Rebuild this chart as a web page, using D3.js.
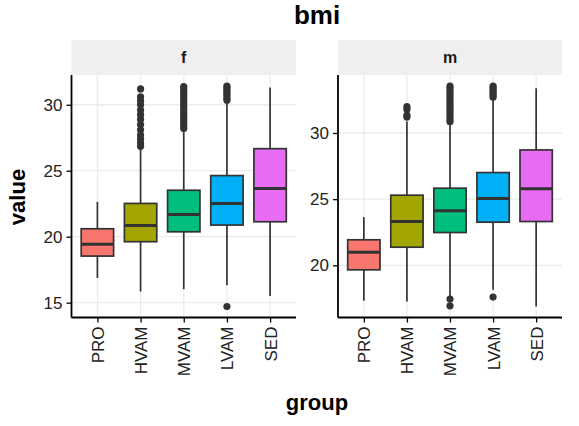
<!DOCTYPE html>
<html><head><meta charset="utf-8">
<script src="https://cdn.jsdelivr.net/npm/d3@7"></script>
<style>body{margin:0;background:#fff;} text{font-family:"Liberation Sans",Arial,Helvetica,sans-serif;}</style>
</head><body>
<svg id="chart" width="579" height="426"></svg>
<script>
const categories = ["PRO","HVAM","MVAM","LVAM","SED"];
const colors = ["#F8766D","#A3A500","#00BF7D","#00B0F6","#E76BF3"];
const panels = ["f","m"];
const yTicks = [15,20,25,30];
// stats: [lower whisker, q1, median, q3, upper whisker]
const statsF = [
  [16.87,18.53,19.42,20.60,22.64],
  [15.84,19.62,20.85,22.52,26.75],
  [16.02,20.37,21.69,23.52,28.05],
  [16.32,20.88,22.52,24.63,30.25],
  [15.51,21.13,23.65,26.67,31.31]
];
const statsM = [
  [17.32,19.66,20.99,21.93,23.64],
  [17.27,21.37,23.31,25.30,30.86],
  [17.65,22.48,24.12,25.83,30.74],
  [18.15,23.26,25.05,27.01,32.50],
  [16.89,23.31,25.78,28.72,33.38]
];
const outliersF = [
  [],
  [31.2,30.6,30.3,30.0,29.6,29.25,28.9,28.5,28.1,27.7,27.4,27.1,26.85],
  [31.38,31.2,31.0,30.8,30.6,30.4,30.2,30.0,29.8,29.6,29.4,29.2,29.0,28.8,28.6,28.4,28.2],
  [31.42,31.3,31.15,31.0,30.85,30.7,30.5,30.35,14.71],
  []
];
const outliersM = [
  [],
  [32.0,31.8,31.35,31.2],
  [33.55,33.4,33.2,33.0,32.8,32.6,32.4,32.2,32.0,31.8,31.6,31.4,31.2,31.0,30.85,17.45,16.94],
  [33.55,33.45,33.3,33.15,33.0,32.85,32.7,17.6],
  []
];

const svg = d3.select("#chart");
const yTop = 75, yBottom = 317.5;
const panelX = [[71.5,296],[338,562]];
const data = [[statsF,outliersF],[statsM,outliersM]];

panels.forEach((p,pi)=>{
  const [stats,outs] = data[pi];
  const [x0,x1] = panelX[pi];
  const all = stats.flat().concat(outs.flat());
  const lo = d3.min(all), hi = d3.max(all), pad = (hi-lo)*0.05;
  const y = d3.scaleLinear().domain([lo-pad,hi+pad]).range([yBottom,yTop]);
  const step = (x1-x0)/5.2;
  const x = d3.scalePoint().domain(categories).range([x0+0.6*step, x1-0.6*step]);
  const bw = step*0.75;
  const g = svg.append("g");
  // strip
  g.append("rect").attr("x",x0).attr("y",40).attr("width",x1-x0).attr("height",35).attr("fill","#efefef");
  g.append("text").attr("x",(x0+x1)/2).attr("y",63).attr("text-anchor","middle")
    .attr("font-size",16).attr("font-weight","bold").attr("fill","#1a1a1a").text(p);
  // grid
  const yt = yTicks.filter(t=>t>=y.domain()[0]&&t<=y.domain()[1]);
  g.selectAll(".hg").data(yt).enter().append("line")
    .attr("x1",x0).attr("x2",x1).attr("y1",d=>y(d)).attr("y2",d=>y(d))
    .attr("stroke","#ebebeb").attr("stroke-width",1.3);
  g.selectAll(".vg").data(categories).enter().append("line")
    .attr("x1",d=>x(d)).attr("x2",d=>x(d)).attr("y1",yTop).attr("y2",yBottom)
    .attr("stroke","#ebebeb").attr("stroke-width",1.3);
  // boxes
  categories.forEach((c,i)=>{
    const s = stats[i], xc = x(c);
    g.append("line").attr("x1",xc).attr("x2",xc).attr("y1",y(s[0])).attr("y2",y(s[4]))
      .attr("stroke","#333").attr("stroke-width",1.7);
    g.append("rect").attr("x",xc-bw/2).attr("width",bw).attr("y",y(s[3])).attr("height",y(s[1])-y(s[3]))
      .attr("fill",colors[i]).attr("stroke","#333").attr("stroke-width",1.7);
    g.append("line").attr("x1",xc-bw/2).attr("x2",xc+bw/2).attr("y1",y(s[2])).attr("y2",y(s[2]))
      .attr("stroke","#333").attr("stroke-width",3);
    g.selectAll(null).data(outs[i]).enter().append("circle")
      .attr("cx",xc).attr("cy",d=>y(d)).attr("r",3.6).attr("fill","#333");
  });
  // axes
  const ya = d3.axisLeft(y).tickValues(yt).tickSize(5).tickPadding(4);
  const yg = g.append("g").attr("transform",`translate(${x0},0)`).call(ya);
  yg.select(".domain").attr("d",`M0,${yTop}V${yBottom}`).attr("stroke","#000").attr("stroke-width",1.8);
  yg.selectAll(".tick line").attr("stroke","#000").attr("stroke-width",1.3);
  yg.selectAll(".tick text").attr("font-size",17).attr("fill","#222").attr("font-family","Liberation Sans, Arial, sans-serif");
  const xa = d3.axisBottom(x).tickSize(5).tickPadding(3);
  const xg = g.append("g").attr("transform",`translate(0,${yBottom})`).call(xa);
  xg.select(".domain").attr("d",`M${x0},0H${x1}`).attr("stroke","#000").attr("stroke-width",1.8);
  xg.selectAll(".tick line").attr("stroke","#000").attr("stroke-width",1.3);
  xg.selectAll(".tick text").attr("font-size",17).attr("fill","#222").attr("font-family","Liberation Sans, Arial, sans-serif")
    .attr("transform","rotate(-90)").attr("text-anchor","end").attr("x",-9).attr("y",0).attr("dy","0.35em");
});

svg.append("text").attr("x",317).attr("y",24).attr("text-anchor","middle").attr("font-size",26)
  .attr("font-weight","bold").attr("fill","#000").text("bmi");
svg.append("text").attr("x",317).attr("y",410).attr("text-anchor","middle").attr("font-size",22)
  .attr("font-weight","bold").attr("fill","#000").text("group");
svg.append("text").attr("transform","translate(25,197) rotate(-90)").attr("text-anchor","middle").attr("font-size",22)
  .attr("font-weight","bold").attr("fill","#000").text("value");
</script>
</body></html>
